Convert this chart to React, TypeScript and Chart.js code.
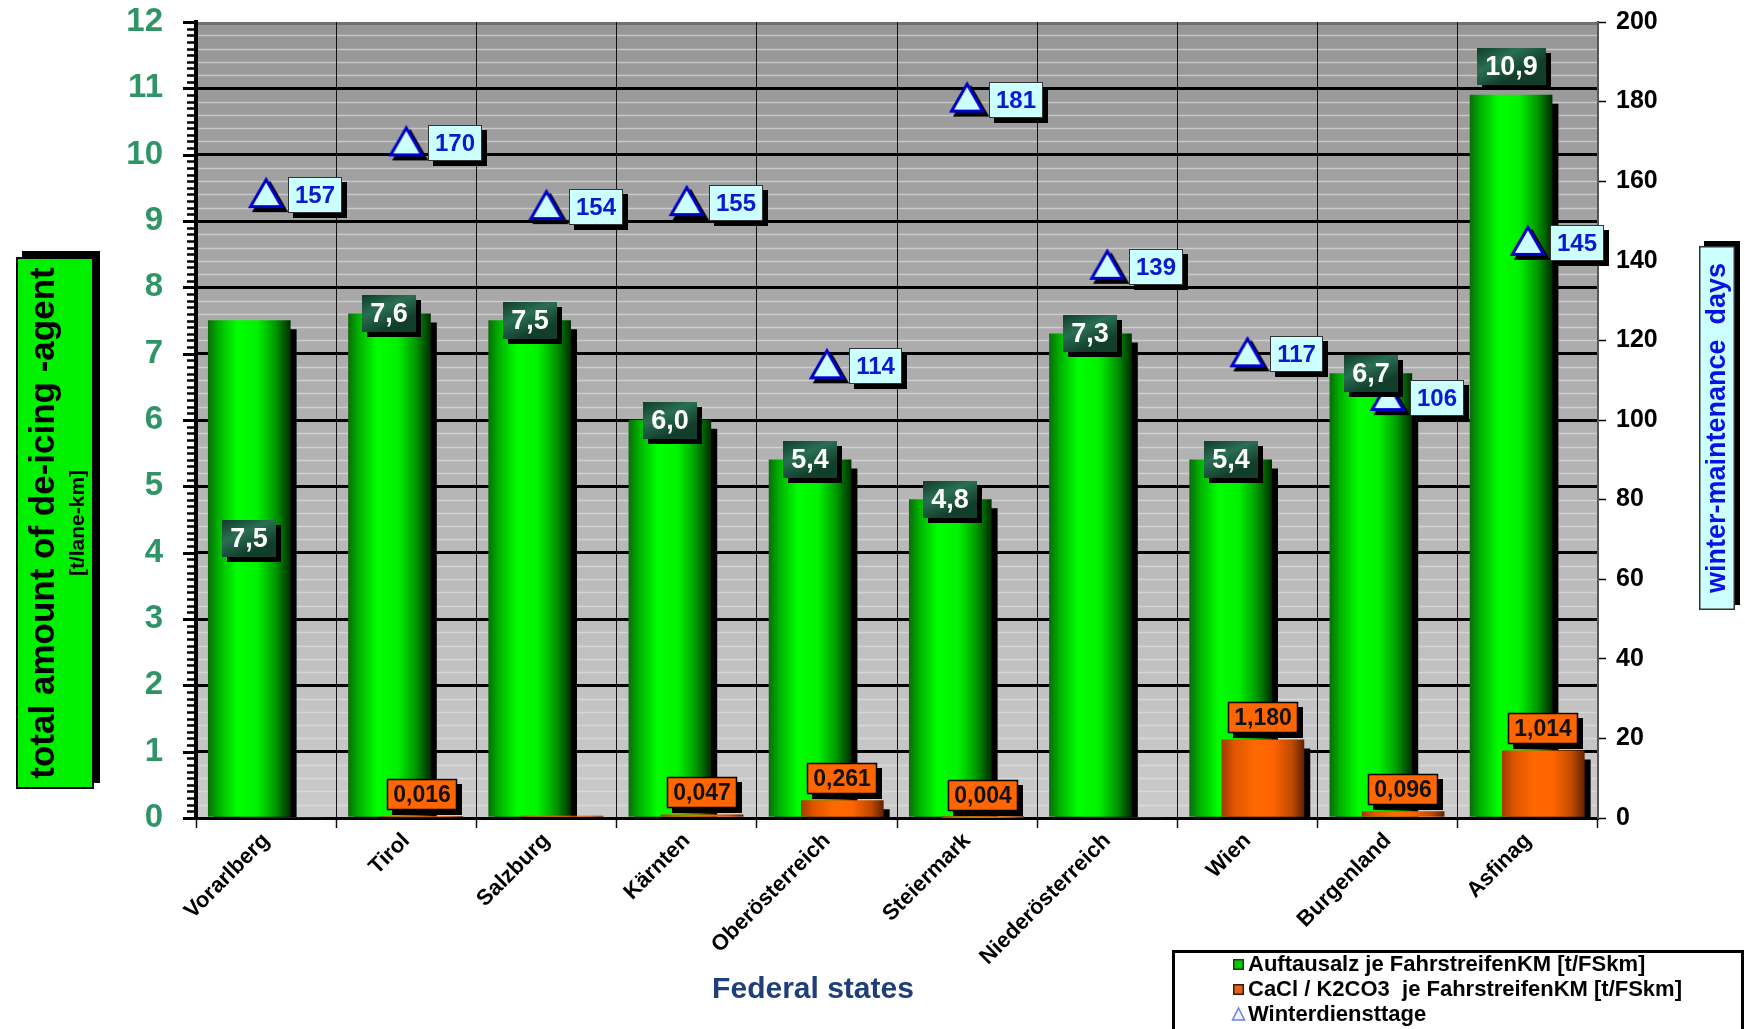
import React, { useEffect, useRef } from "react";
import { Chart, registerables } from "chart.js";

Chart.register(...registerables);

// ---------------- data ----------------
const categories = [
  "Vorarlberg",
  "Tirol",
  "Salzburg",
  "Kärnten",
  "Oberösterreich",
  "Steiermark",
  "Niederösterreich",
  "Wien",
  "Burgenland",
  "Asfinag",
];
const saltValues = [7.5, 7.6, 7.5, 6.0, 5.4, 4.8, 7.3, 5.4, 6.7, 10.9];
const cacoValues = [0, 0.016, 0.03, 0.047, 0.261, 0.004, 0, 1.18, 0.096, 1.014];
const cacoLabeled = [false, true, false, true, true, true, false, true, true, true];
const winterDays = [157, 170, 154, 155, 114, 181, 139, 117, 106, 145];
const saltLabelPlacement = ["inside", "top", "top", "top", "top", "top", "top", "top", "top", "above"];
const seriesNames = [
  "Auftausalz je FahrstreifenKM [t/FSkm]",
  "CaCl / K2CO3  je FahrstreifenKM [t/FSkm]",
  "Winterdiensttage",
];
const leftAxisMax = 12;
const rightAxisMax = 200;
const rightAxisStep = 20;
const axisTitleLeft = "total amount of de-icing -agent";
const axisUnitLeft = "[t/lane-km]";
const axisTitleRight = "winter-maintenance  days";
const axisTitleX = "Federal states";

// ---------------- styling ----------------
const W = 1745;
const H = 1029;
const FAMILY = '"Liberation Sans", Arial, Helvetica, sans-serif';
const font = (size: number, weight = "bold") => `${weight} ${size}px ${FAMILY}`;

const BAR_W = 82;
const GREEN_SHIFT = -0.12;
const ORANGE_SHIFT = 0.11;
const TRI_R = 18;

const greenStops: [number, string][] = [
  [0, "#0a6e0a"],
  [0.12, "#00b000"],
  [0.35, "#00ff00"],
  [0.6, "#00f200"],
  [0.82, "#009800"],
  [1, "#002e00"],
];
const orangeStops: [number, string][] = [
  [0, "#a33c00"],
  [0.15, "#e05500"],
  [0.4, "#ff6a00"],
  [0.62, "#ff6400"],
  [0.85, "#c04a00"],
  [1, "#642200"],
];

const fmt = (v: number, d: number) => v.toFixed(d).replace(".", ",");

const barGradient = (stops: [number, string][]) => (c: any) => {
  const chart = c.chart;
  const xs = chart.scales && chart.scales.x;
  if (!c.parsed || !xs || !chart.chartArea) return stops[2][1];
  const cx = xs.getPixelForValue(c.parsed.x);
  const g = chart.ctx.createLinearGradient(cx - BAR_W / 2, 0, cx + BAR_W / 2, 0);
  stops.forEach(([o, col]) => g.addColorStop(o, col));
  return g;
};

// triangle marker whose visual centre sits on the data value
function makeTriangle(r: number) {
  const s = Math.ceil(r * 2 + 12);
  const c = document.createElement("canvas");
  c.width = s;
  c.height = s;
  const g = c.getContext("2d")!;
  const cx = s / 2;
  const cy = s / 2;
  const h = 1.5 * r;
  const half = (r * Math.sqrt(3)) / 2;
  g.beginPath();
  g.moveTo(cx, cy - h / 2);
  g.lineTo(cx + half, cy + h / 2);
  g.lineTo(cx - half, cy + h / 2);
  g.closePath();
  g.fillStyle = "#ccffff";
  g.fill();
  g.lineWidth = 3;
  g.lineJoin = "miter";
  g.strokeStyle = "#0000cc";
  g.stroke();
  return c;
}

function labelBox(
  ctx: CanvasRenderingContext2D,
  cx: number,
  cy: number,
  text: string,
  o: any
) {
  ctx.save();
  ctx.font = o.font;
  const tw = ctx.measureText(text).width;
  const w = Math.round(tw + o.padX * 2);
  const h = o.h;
  const x = Math.round(o.left !== undefined ? o.left : cx - w / 2);
  const y = Math.round(cy - h / 2);
  ctx.fillStyle = "#000";
  ctx.fillRect(x + o.sdx, y + o.sdy, w, h);
  if (o.grad) {
    const g = ctx.createLinearGradient(x, y, x + w * 0.3, y + h);
    o.grad.forEach(([p, c]: [number, string]) => g.addColorStop(p, c));
    ctx.fillStyle = g;
  } else {
    ctx.fillStyle = o.fill;
  }
  ctx.fillRect(x, y, w, h);
  if (o.stroke) {
    ctx.lineWidth = o.strokeW;
    ctx.strokeStyle = o.stroke;
    ctx.strokeRect(x + 0.5, y + 0.5, w - 1, h - 1);
  }
  ctx.fillStyle = o.color;
  ctx.textAlign = "center";
  ctx.textBaseline = "middle";
  ctx.fillText(text, x + w / 2, y + h / 2 + 1);
  ctx.restore();
}

const backgroundPlugin = {
  id: "plotBackground",
  beforeDraw(chart: any) {
    const { ctx, chartArea: a, scales } = chart;
    const y = scales.y;
    ctx.save();
    const g = ctx.createLinearGradient(0, a.top, 0, a.bottom);
    g.addColorStop(0, "#969696");
    g.addColorStop(1, "#cbcbcb");
    ctx.fillStyle = g;
    ctx.fillRect(a.left, a.top, a.right - a.left, a.bottom - a.top);
    ctx.strokeStyle = "rgba(228,228,228,0.6)";
    ctx.lineWidth = 1.5;
    for (let k = 1; k < leftAxisMax * 5; k++) {
      if (k % 5 === 0) continue;
      const py = Math.round(y.getPixelForValue(k * 0.2)) + 0.5;
      ctx.beginPath();
      ctx.moveTo(a.left, py);
      ctx.lineTo(a.right, py);
      ctx.stroke();
    }
    ctx.strokeStyle = "#707070";
    ctx.lineWidth = 3;
    ctx.beginPath();
    ctx.moveTo(a.left, a.top + 1.5);
    ctx.lineTo(a.right, a.top + 1.5);
    ctx.stroke();
    ctx.restore();
  },
};

const shadowPlugin = {
  id: "markShadows",
  beforeDatasetDraw(chart: any, args: any) {
    const ctx = chart.ctx;
    ctx.save();
    ctx.shadowColor = "#000";
    ctx.shadowBlur = 0;
    if (args.meta.type === "line") {
      ctx.shadowOffsetX = 4;
      ctx.shadowOffsetY = 4;
    } else {
      ctx.shadowOffsetX = 6;
      ctx.shadowOffsetY = 9;
    }
  },
  afterDatasetDraw(chart: any) {
    chart.ctx.restore();
  },
};

const labelsPlugin = {
  id: "valueLabels",
  afterDatasetsDraw(chart: any) {
    const ctx = chart.ctx;
    const greenMeta = chart.getDatasetMeta(0);
    const orangeMeta = chart.getDatasetMeta(1);
    const triMeta = chart.getDatasetMeta(2);
    categories.forEach((_, i) => {
      const el = greenMeta.data[i];
      if (!el) return;
      const place = saltLabelPlacement[i];
      let cy = el.y;
      if (place === "above") cy = el.y - 28;
      else if (place === "inside") cy = el.y + (el.base - el.y) * 0.44;
      labelBox(ctx, el.x, cy, fmt(saltValues[i], 1), {
        font: font(27),
        padX: 8,
        h: 37,
        sdx: 5,
        sdy: 5,
        grad: [
          [0, "#0f3d2a"],
          [0.5, "#2a6e54"],
          [1, "#123f2c"],
        ],
        color: "#ffffff",
      });
    });
    categories.forEach((_, i) => {
      if (!cacoLabeled[i]) return;
      const el = orangeMeta.data[i];
      if (!el) return;
      const h = 31;
      labelBox(ctx, el.x, el.y - 7 - h / 2, fmt(cacoValues[i], 3), {
        font: font(23),
        padX: 6,
        h,
        sdx: 5,
        sdy: 5,
        fill: "#ff6600",
        stroke: "#000",
        strokeW: 1.5,
        color: "#111",
      });
    });
    categories.forEach((_, i) => {
      const el = triMeta.data[i];
      if (!el) return;
      labelBox(ctx, 0, el.y + 2, String(winterDays[i]), {
        left: el.x + 22,
        font: font(24),
        padX: 7,
        h: 36,
        sdx: 5,
        sdy: 5,
        fill: "#ccffff",
        stroke: "#333",
        strokeW: 1,
        color: "#0a1ad0",
      });
    });
  },
};

const decorPlugin = {
  id: "decor",
  afterDraw(chart: any) {
    const { ctx, chartArea: a, scales } = chart;
    const y = scales.y;
    ctx.save();
    // major + minor ticks on the left axis
    ctx.strokeStyle = "#000";
    for (let k = 0; k <= leftAxisMax * 10; k++) {
      const major = k % 10 === 0;
      const py = Math.round(y.getPixelForValue(k * 0.1)) + 0.5;
      ctx.lineWidth = major ? 3 : 2.5;
      ctx.beginPath();
      ctx.moveTo(a.left - (major ? 13 : 9), py);
      ctx.lineTo(a.left - 1, py);
      ctx.stroke();
    }

    // left axis title box
    const lx = 16, ly = 257, lw = 78, lh = 532;
    ctx.fillStyle = "#000";
    ctx.fillRect(lx + 6, ly - 6, lw, lh);
    ctx.fillStyle = "#00f000";
    ctx.fillRect(lx, ly, lw, lh);
    ctx.strokeStyle = "#000";
    ctx.lineWidth = 2;
    ctx.strokeRect(lx + 1, ly + 1, lw - 2, lh - 2);
    ctx.save();
    ctx.translate(lx + lw / 2, ly + lh / 2);
    ctx.rotate(-Math.PI / 2);
    ctx.fillStyle = "#000";
    ctx.textAlign = "center";
    ctx.textBaseline = "middle";
    ctx.font = font(35);
    ctx.fillText(axisTitleLeft, 0, -11);
    ctx.font = font(21);
    ctx.fillText(axisUnitLeft, 0, 23);
    ctx.restore();

    // right axis title box
    const rx = 1699, ry = 246, rw = 36, rh = 364;
    ctx.fillStyle = "#000";
    ctx.fillRect(rx + 5, ry - 5, rw, rh);
    ctx.fillStyle = "#ccffff";
    ctx.fillRect(rx, ry, rw, rh);
    ctx.strokeStyle = "#333";
    ctx.lineWidth = 1.5;
    ctx.strokeRect(rx + 0.75, ry + 0.75, rw - 1.5, rh - 1.5);
    ctx.save();
    ctx.translate(rx + rw / 2, ry + rh / 2);
    ctx.rotate(-Math.PI / 2);
    ctx.fillStyle = "#0a10e8";
    ctx.textAlign = "center";
    ctx.textBaseline = "middle";
    ctx.font = font(27);
    ctx.fillText(axisTitleRight, 0, 1);
    ctx.restore();

    // x axis title
    ctx.fillStyle = "#1f3f7a";
    ctx.textAlign = "center";
    ctx.textBaseline = "middle";
    ctx.font = font(30);
    ctx.fillText(axisTitleX, 813, 990);

    // legend
    const bx = 1172, by = 950;
    ctx.strokeStyle = "#000";
    ctx.lineWidth = 3;
    ctx.strokeRect(bx + 1.5, by + 1.5, W - bx - 4, H - by + 4);
    const rows = [964, 989, 1014];
    const mx = 1233;
    ctx.lineWidth = 1.5;
    ctx.fillStyle = "#00cc00";
    ctx.fillRect(mx, rows[0] - 5, 11, 11);
    ctx.strokeStyle = "#1a3a1a";
    ctx.strokeRect(mx + 0.75, rows[0] - 4.25, 9.5, 9.5);
    ctx.fillStyle = "#e8601a";
    ctx.fillRect(mx, rows[1] - 5, 11, 11);
    ctx.strokeStyle = "#3a1a0a";
    ctx.strokeRect(mx + 0.75, rows[1] - 4.25, 9.5, 9.5);
    ctx.beginPath();
    ctx.moveTo(mx + 5.5, rows[2] - 6);
    ctx.lineTo(mx + 11.5, rows[2] + 6);
    ctx.lineTo(mx - 0.5, rows[2] + 6);
    ctx.closePath();
    ctx.fillStyle = "#eef4ff";
    ctx.fill();
    ctx.strokeStyle = "#6a7ee0";
    ctx.stroke();
    ctx.fillStyle = "#000";
    ctx.textAlign = "left";
    ctx.font = font(22);
    seriesNames.forEach((n, i) => ctx.fillText(n, 1248, rows[i] + 1));
    ctx.restore();
  },
};

export default function App() {
  const ref = useRef<HTMLCanvasElement | null>(null);

  useEffect(() => {
    if (!ref.current) return;
    const triangle = makeTriangle(TRI_R);
    const chart = new Chart(ref.current, {
      type: "bar",
      data: {
        datasets: [
          {
            type: "bar",
            label: seriesNames[0],
            data: saltValues.map((v, i) => ({ x: i + GREEN_SHIFT, y: v })),
            yAxisID: "y",
            xAxisID: "x",
            grouped: false,
            barThickness: BAR_W,
            backgroundColor: barGradient(greenStops),
            borderWidth: 0,
            order: 2,
          } as any,
          {
            type: "bar",
            label: seriesNames[1],
            data: cacoValues.map((v, i) => ({ x: i + ORANGE_SHIFT, y: v })),
            yAxisID: "y",
            xAxisID: "x",
            grouped: false,
            barThickness: BAR_W,
            backgroundColor: barGradient(orangeStops),
            borderWidth: 0,
            order: 1,
          } as any,
          {
            type: "line",
            label: seriesNames[2],
            data: winterDays.map((v, i) => ({ x: i, y: v })),
            yAxisID: "y2",
            xAxisID: "x",
            showLine: false,
            pointStyle: triangle,
            pointRadius: TRI_R,
            pointHoverRadius: TRI_R,
            pointBackgroundColor: "#ccffff",
            pointBorderColor: "#0000cc",
            pointBorderWidth: 3,
            order: 0,
          } as any,
        ],
      },
      options: {
        animation: false,
        responsive: false,
        devicePixelRatio: 1,
        layout: { padding: { top: 22, left: 0, right: 0, bottom: 0 } },
        plugins: {
          legend: { display: false },
          tooltip: { enabled: false },
          title: { display: false },
        },
        scales: {
          x: {
            type: "linear",
            offset: false,
            min: -0.5,
            max: categories.length - 0.5,
            afterBuildTicks: (s: any) => {
              s.ticks = categories.map((_, i) => ({ value: i }));
            },
            afterFit: (s: any) => {
              s.height = 211;
            },
            ticks: {
              autoSkip: false,
              minRotation: 45,
              maxRotation: 45,
              padding: 0,
              color: "#000",
              font: { family: FAMILY, size: 22, weight: "bold" },
              callback: (v: any) => categories[v as number],
            },
            grid: {
              offset: true,
              color: "#111",
              lineWidth: 1,
              tickLength: 10,
              tickColor: "#111",
              tickWidth: 1.5,
            },
            border: { display: true, color: "#000", width: 3 },
          } as any,
          y: {
            type: "linear",
            position: "left",
            min: 0,
            max: leftAxisMax,
            afterFit: (s: any) => {
              s.width = 196;
            },
            ticks: {
              stepSize: 1,
              padding: 4,
              color: "#2f9466",
              font: { family: FAMILY, size: 33, weight: "bold", lineHeight: 1 },
            },
            grid: {
              color: (c: any) =>
                c.tick && c.tick.value === leftAxisMax ? "rgba(0,0,0,0)" : "#000",
              lineWidth: 3,
              tickLength: 29,
              tickColor: "rgba(0,0,0,0)",
              tickWidth: 3,
            },
            border: { display: true, color: "#000", width: 4 },
          } as any,
          y2: {
            type: "linear",
            position: "right",
            min: 0,
            max: rightAxisMax,
            afterFit: (s: any) => {
              s.width = 147;
            },
            ticks: {
              stepSize: rightAxisStep,
              padding: 10,
              color: "#000",
              font: { family: FAMILY, size: 25, weight: "bold", lineHeight: 0.9 },
            },
            grid: {
              drawOnChartArea: false,
              tickLength: 8,
              tickColor: "#000",
              tickWidth: 1.5,
            },
            border: { display: true, color: "#555", width: 2 },
          } as any,
        },
      },
      plugins: [backgroundPlugin, shadowPlugin, labelsPlugin, decorPlugin],
    });
    return () => chart.destroy();
  }, []);

  return (
    <div
      style={{
        position: "fixed",
        left: 0,
        top: 0,
        width: W,
        height: H,
        background: "#ffffff",
      }}
    >
      <canvas ref={ref} width={W} height={H} style={{ display: "block", width: W, height: H }} />
    </div>
  );
}
